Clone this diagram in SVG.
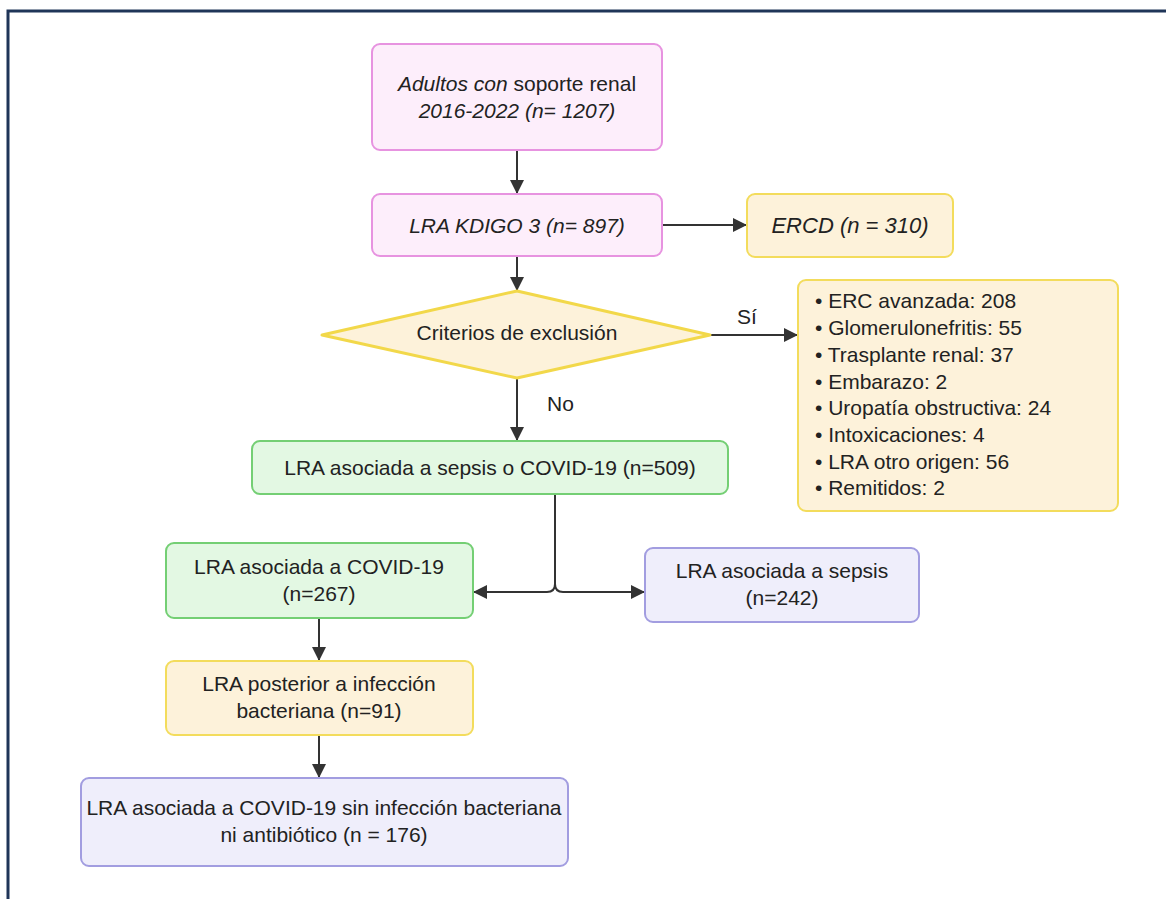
<svg xmlns="http://www.w3.org/2000/svg" width="1166" height="899" viewBox="0 0 1166 899">
<style>
text{font-family:"Liberation Sans",Arial,sans-serif;font-size:21px;fill:#222;}
.c{text-anchor:middle;}
.i{font-style:italic;}
.pink{fill:#fdeefb;stroke:#e793e0;stroke-width:2;}
.yel{fill:#fdf2da;stroke:#f3dc5c;stroke-width:2;}
.grn{fill:#e3f8e3;stroke:#74cf74;stroke-width:2;}
.pur{fill:#efeefb;stroke:#a29de0;stroke-width:2;}
.ln{fill:none;stroke:#333;stroke-width:2;}
</style>
<defs>
<marker id="ah" viewBox="0 0 14 14" refX="13" refY="7" markerWidth="14" markerHeight="14" markerUnits="userSpaceOnUse" orient="auto">
<path d="M0,0 L14,7 L0,14 Z" fill="#333"/>
</marker>
</defs>
<rect width="1166" height="899" fill="#fff"/>
<path d="M8,899 V11 H1166" fill="none" stroke="#1f3558" stroke-width="3"/>

<g id="connectors">
<path class="ln" d="M517,150 V193" marker-end="url(#ah)"/>
<path class="ln" d="M662,225 H746" marker-end="url(#ah)"/>
<path class="ln" d="M517,256 V290" marker-end="url(#ah)"/>
<path class="ln" d="M710,335 H797" marker-end="url(#ah)"/>
<path class="ln" d="M517,378 V440" marker-end="url(#ah)"/>
<path class="ln" d="M555,494 V584 Q555,592 547,592 H474" marker-end="url(#ah)"/>
<path class="ln" d="M555,584 Q555,592 563,592 H644" marker-end="url(#ah)"/>
<path class="ln" d="M319,618 V660" marker-end="url(#ah)"/>
<path class="ln" d="M319,735 V777" marker-end="url(#ah)"/>
<text x="747" y="324" class="c">Sí</text>
<text x="547" y="411">No</text>
</g>

<g id="n1">
<rect class="pink" x="372" y="44" width="290" height="106" rx="8"/>
<text x="517" y="91" class="c"><tspan class="i">Adultos con </tspan>soporte renal</text>
<text x="517" y="118" class="c i">2016-2022 (n= 1207)</text>
</g>
<g id="n2">
<rect class="pink" x="372" y="194" width="290" height="62" rx="8"/>
<text x="517" y="233" class="c i">LRA KDIGO 3 (n= 897)</text>
</g>
<g id="n3">
<rect class="yel" x="747" y="194" width="206" height="63" rx="8"/>
<text x="850" y="233" class="c i" style="font-size:22px">ERCD (n = 310)</text>
</g>
<g id="n4">
<path d="M517,291 L710,335 L517,378 L322,335 Z" fill="#fdf2da" stroke="#f2d84a" stroke-width="3" stroke-linejoin="round"/>
<text x="517" y="340" class="c">Criterios de exclusión</text>
</g>
<g id="n5">
<rect class="yel" x="798" y="280" width="320" height="231" rx="8"/>
<text x="815" y="308">• ERC avanzada: 208</text>
<text x="815" y="335">• Glomerulonefritis: 55</text>
<text x="815" y="362">• Trasplante renal: 37</text>
<text x="815" y="389">• Embarazo: 2</text>
<text x="815" y="415">• Uropatía obstructiva: 24</text>
<text x="815" y="442">• Intoxicaciones: 4</text>
<text x="815" y="469">• LRA otro origen: 56</text>
<text x="815" y="495">• Remitidos: 2</text>
</g>
<g id="n6">
<rect class="grn" x="252" y="441" width="476" height="53" rx="8"/>
<text x="490" y="475" class="c">LRA asociada a sepsis o COVID-19 (n=509)</text>
</g>
<g id="n7">
<rect class="grn" x="166" y="543" width="307" height="75" rx="8"/>
<text x="319" y="574" class="c">LRA asociada a COVID-19</text>
<text x="319" y="601" class="c">(n=267)</text>
</g>
<g id="n8">
<rect class="pur" x="645" y="548" width="274" height="74" rx="8"/>
<text x="782" y="578" class="c">LRA asociada a sepsis</text>
<text x="782" y="605" class="c">(n=242)</text>
</g>
<g id="n9">
<rect class="yel" x="166" y="661" width="307" height="74" rx="8"/>
<text x="319" y="691" class="c">LRA posterior a infección</text>
<text x="319" y="718" class="c">bacteriana (n=91)</text>
</g>
<g id="n10">
<rect class="pur" x="81" y="778" width="487" height="88" rx="8"/>
<text x="324" y="815" class="c">LRA asociada a COVID-19 sin infección bacteriana</text>
<text x="324" y="842" class="c">ni antibiótico (n = 176)</text>
</g>
</svg>
